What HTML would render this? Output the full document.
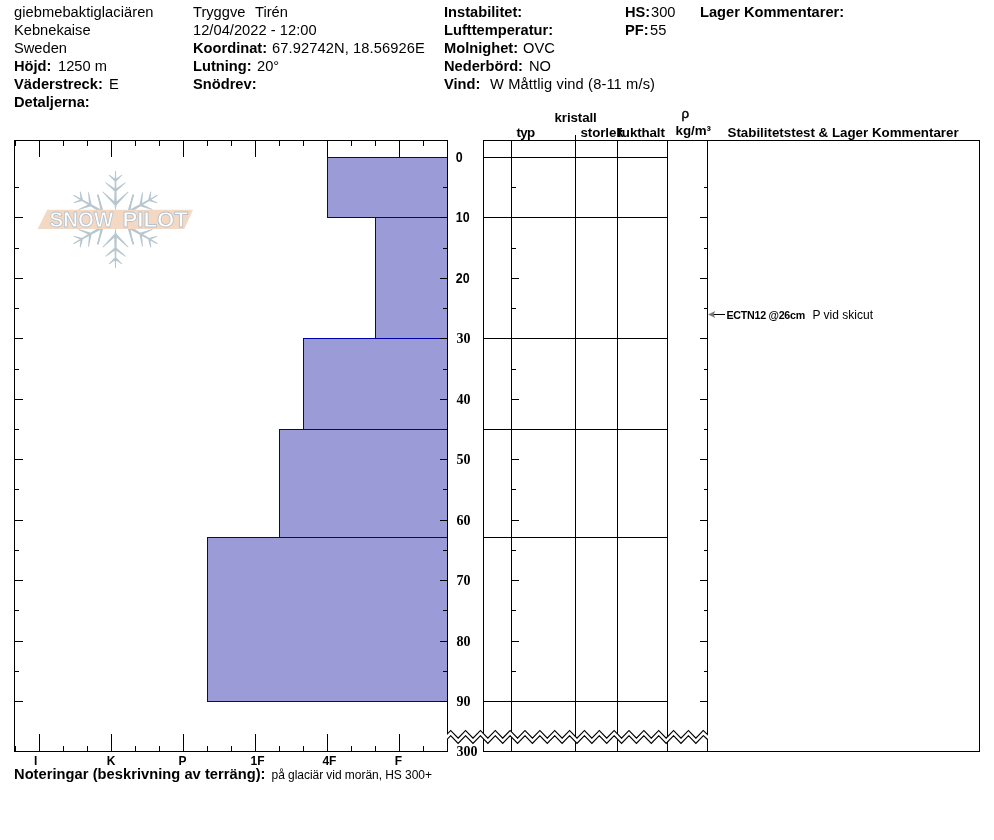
<!DOCTYPE html>
<html lang="sv"><head><meta charset="utf-8"><title>Snow Pilot</title>
<style>html,body{margin:0;padding:0;background:#fff}svg{display:block}text{font-family:"Liberation Sans",sans-serif;fill:#000;white-space:pre}.b{font-weight:bold}.h{font-size:14.67px}.t{font-size:13.33px;font-weight:bold}.d{font-family:"Liberation Serif",serif;font-size:14px;font-weight:bold}.x{font-size:13.33px;font-weight:bold}.n{font-size:12px}text.lg{font-size:21.6px;font-weight:bold;fill:#fff;stroke:#b8c1c9;stroke-width:0.85;stroke-linejoin:round}.k{stroke:#000;stroke-width:1;fill:none;shape-rendering:crispEdges}</style></head><body>
<svg width="994" height="840" viewBox="0 0 994 840">
<rect width="994" height="840" fill="#fff"/>
<text x="14" y="17" class="h" textLength="139.5">giebmebaktiglaciären</text>
<text x="14" y="35" class="h">Kebnekaise</text>
<text x="14" y="53" class="h">Sweden</text>
<text x="14" y="71" class="h b">Höjd:</text>
<text x="58" y="71" class="h">1250 m</text>
<text x="14" y="89" class="h b">Väderstreck:</text>
<text x="109" y="89" class="h">E</text>
<text x="14" y="107" class="h b">Detaljerna:</text>
<text x="193" y="17" class="h">Tryggve</text>
<text x="255" y="17" class="h">Tirén</text>
<text x="193" y="35" class="h" textLength="123.6">12/04/2022 - 12:00</text>
<text x="193" y="53" class="h b">Koordinat:</text>
<text x="272" y="53" class="h" textLength="152.7">67.92742N, 18.56926E</text>
<text x="193" y="71" class="h b">Lutning:</text>
<text x="257" y="71" class="h">20°</text>
<text x="193" y="89" class="h b">Snödrev:</text>
<text x="444" y="17" class="h b">Instabilitet:</text>
<text x="444" y="35" class="h b">Lufttemperatur:</text>
<text x="444" y="53" class="h b">Molnighet:</text>
<text x="523" y="53" class="h">OVC</text>
<text x="444" y="71" class="h b">Nederbörd:</text>
<text x="529" y="71" class="h">NO</text>
<text x="444" y="89" class="h b">Vind:</text>
<text x="490" y="89" class="h" textLength="165">W Måttlig vind (8-11 m/s)</text>
<text x="625" y="17" class="h b">HS:</text>
<text x="651" y="17" class="h">300</text>
<text x="625" y="35" class="h b">PF:</text>
<text x="650" y="35" class="h">55</text>
<text x="700" y="17" class="h b">Lager Kommentarer:</text>
<g id="logo">
<g transform="translate(115.5,219.5)" fill="#b7c6cf" stroke="none">
<path transform="rotate(0)" d="M-1.30,-17.00L-0.25,-9.00L0.25,-9.00L1.30,-17.00ZM1.30,-17.00L0.50,-48.50L-0.50,-48.50L-1.30,-17.00ZM0.74,-38.12L6.79,-44.16L6.21,-44.84L-0.74,-39.88ZM0.74,-39.88L-6.21,-44.84L-6.79,-44.16L-0.74,-38.12ZM0.78,-28.02L10.28,-36.65L9.72,-37.35L-0.78,-29.98ZM0.78,-29.98L-9.72,-37.35L-10.28,-36.65L-0.78,-28.02ZM0.94,-14.33L13.11,-27.48L12.49,-28.12L-0.94,-16.27ZM0.94,-16.27L-12.49,-28.12L-13.11,-27.48L-0.94,-14.33Z"/>
<path transform="rotate(60)" d="M-1.30,-17.00L-0.25,-9.00L0.25,-9.00L1.30,-17.00ZM1.30,-17.00L0.50,-48.50L-0.50,-48.50L-1.30,-17.00ZM0.74,-38.12L6.79,-44.16L6.21,-44.84L-0.74,-39.88ZM0.74,-39.88L-6.21,-44.84L-6.79,-44.16L-0.74,-38.12ZM0.78,-28.02L10.28,-36.65L9.72,-37.35L-0.78,-29.98ZM0.78,-29.98L-9.72,-37.35L-10.28,-36.65L-0.78,-28.02ZM0.94,-14.33L13.11,-27.48L12.49,-28.12L-0.94,-16.27ZM0.94,-16.27L-12.49,-28.12L-13.11,-27.48L-0.94,-14.33Z"/>
<path transform="rotate(120)" d="M-1.30,-17.00L-0.25,-9.00L0.25,-9.00L1.30,-17.00ZM1.30,-17.00L0.50,-48.50L-0.50,-48.50L-1.30,-17.00ZM0.74,-38.12L6.79,-44.16L6.21,-44.84L-0.74,-39.88ZM0.74,-39.88L-6.21,-44.84L-6.79,-44.16L-0.74,-38.12ZM0.78,-28.02L10.28,-36.65L9.72,-37.35L-0.78,-29.98ZM0.78,-29.98L-9.72,-37.35L-10.28,-36.65L-0.78,-28.02ZM0.94,-14.33L13.11,-27.48L12.49,-28.12L-0.94,-16.27ZM0.94,-16.27L-12.49,-28.12L-13.11,-27.48L-0.94,-14.33Z"/>
<path transform="rotate(180)" d="M-1.30,-17.00L-0.25,-9.00L0.25,-9.00L1.30,-17.00ZM1.30,-17.00L0.50,-48.50L-0.50,-48.50L-1.30,-17.00ZM0.74,-38.12L6.79,-44.16L6.21,-44.84L-0.74,-39.88ZM0.74,-39.88L-6.21,-44.84L-6.79,-44.16L-0.74,-38.12ZM0.78,-28.02L10.28,-36.65L9.72,-37.35L-0.78,-29.98ZM0.78,-29.98L-9.72,-37.35L-10.28,-36.65L-0.78,-28.02ZM0.94,-14.33L13.11,-27.48L12.49,-28.12L-0.94,-16.27ZM0.94,-16.27L-12.49,-28.12L-13.11,-27.48L-0.94,-14.33Z"/>
<path transform="rotate(240)" d="M-1.30,-17.00L-0.25,-9.00L0.25,-9.00L1.30,-17.00ZM1.30,-17.00L0.50,-48.50L-0.50,-48.50L-1.30,-17.00ZM0.74,-38.12L6.79,-44.16L6.21,-44.84L-0.74,-39.88ZM0.74,-39.88L-6.21,-44.84L-6.79,-44.16L-0.74,-38.12ZM0.78,-28.02L10.28,-36.65L9.72,-37.35L-0.78,-29.98ZM0.78,-29.98L-9.72,-37.35L-10.28,-36.65L-0.78,-28.02ZM0.94,-14.33L13.11,-27.48L12.49,-28.12L-0.94,-16.27ZM0.94,-16.27L-12.49,-28.12L-13.11,-27.48L-0.94,-14.33Z"/>
<path transform="rotate(300)" d="M-1.30,-17.00L-0.25,-9.00L0.25,-9.00L1.30,-17.00ZM1.30,-17.00L0.50,-48.50L-0.50,-48.50L-1.30,-17.00ZM0.74,-38.12L6.79,-44.16L6.21,-44.84L-0.74,-39.88ZM0.74,-39.88L-6.21,-44.84L-6.79,-44.16L-0.74,-38.12ZM0.78,-28.02L10.28,-36.65L9.72,-37.35L-0.78,-29.98ZM0.78,-29.98L-9.72,-37.35L-10.28,-36.65L-0.78,-28.02ZM0.94,-14.33L13.11,-27.48L12.49,-28.12L-0.94,-16.27ZM0.94,-16.27L-12.49,-28.12L-13.11,-27.48L-0.94,-14.33Z"/>
<path d="M-13.62,-11.84L-16.89,-25.06L-18.71,-24.54L-14.58,-11.56ZM-14.58,11.56L-18.71,24.54L-16.89,25.06L-13.62,11.84ZM14.58,-11.56L18.71,-24.54L16.89,-25.06L13.62,-11.84ZM13.62,11.84L16.89,25.06L18.71,24.54L14.58,11.56Z"/>
</g>
<polygon points="47.3,209.7 193,209.7 184.3,229 37.6,229" fill="#f3d9c4"/>
<text x="49.6" y="227.3" textLength="63.6" lengthAdjust="spacingAndGlyphs" class="lg">SNOW</text>
<text x="122.4" y="227.3" textLength="65.6" lengthAdjust="spacingAndGlyphs" class="lg">PILOT</text>
</g>
<rect x="327.5" y="157.5" width="120" height="60" fill="#9b9bd7" stroke="#0000a8" stroke-width="1" shape-rendering="crispEdges"/>
<rect x="375.5" y="217.5" width="72" height="121" fill="#9b9bd7" stroke="#0000a8" stroke-width="1" shape-rendering="crispEdges"/>
<rect x="303.5" y="338.5" width="144" height="91" fill="#9b9bd7" stroke="#0000a8" stroke-width="1" shape-rendering="crispEdges"/>
<rect x="279.5" y="429.5" width="168" height="108" fill="#9b9bd7" stroke="#0000a8" stroke-width="1" shape-rendering="crispEdges"/>
<rect x="207.5" y="537.5" width="240" height="164" fill="#9b9bd7" stroke="#0000a8" stroke-width="1" shape-rendering="crispEdges"/>
<g fill="#000" shape-rendering="crispEdges">
<rect x="14" y="140" width="434" height="1"/>
<rect x="14" y="751" width="434" height="1"/>
<rect x="14" y="140" width="1" height="612"/>
<rect x="447" y="140" width="1" height="612"/>
<rect x="15" y="141" width="1" height="5"/>
<rect x="15" y="746" width="1" height="5"/>
<rect x="39" y="141" width="1" height="16"/>
<rect x="39" y="734" width="1" height="17"/>
<rect x="63" y="141" width="1" height="5"/>
<rect x="63" y="746" width="1" height="5"/>
<rect x="87" y="141" width="1" height="5"/>
<rect x="87" y="746" width="1" height="5"/>
<rect x="111" y="141" width="1" height="16"/>
<rect x="111" y="734" width="1" height="17"/>
<rect x="135" y="141" width="1" height="5"/>
<rect x="135" y="746" width="1" height="5"/>
<rect x="159" y="141" width="1" height="5"/>
<rect x="159" y="746" width="1" height="5"/>
<rect x="183" y="141" width="1" height="16"/>
<rect x="183" y="734" width="1" height="17"/>
<rect x="207" y="141" width="1" height="5"/>
<rect x="207" y="746" width="1" height="5"/>
<rect x="231" y="141" width="1" height="5"/>
<rect x="231" y="746" width="1" height="5"/>
<rect x="255" y="141" width="1" height="16"/>
<rect x="255" y="734" width="1" height="17"/>
<rect x="279" y="141" width="1" height="5"/>
<rect x="279" y="746" width="1" height="5"/>
<rect x="303" y="141" width="1" height="5"/>
<rect x="303" y="746" width="1" height="5"/>
<rect x="327" y="141" width="1" height="16"/>
<rect x="327" y="734" width="1" height="17"/>
<rect x="351" y="141" width="1" height="5"/>
<rect x="351" y="746" width="1" height="5"/>
<rect x="375" y="141" width="1" height="5"/>
<rect x="375" y="746" width="1" height="5"/>
<rect x="399" y="141" width="1" height="16"/>
<rect x="399" y="734" width="1" height="17"/>
<rect x="423" y="141" width="1" height="5"/>
<rect x="423" y="746" width="1" height="5"/>
<rect x="15" y="187" width="4" height="1"/>
<rect x="443" y="187" width="4" height="1"/>
<rect x="512" y="187" width="4" height="1"/>
<rect x="704" y="187" width="3" height="1"/>
<rect x="15" y="217" width="8" height="1"/>
<rect x="440" y="217" width="7" height="1"/>
<rect x="512" y="217" width="7" height="1"/>
<rect x="700" y="217" width="7" height="1"/>
<rect x="15" y="248" width="4" height="1"/>
<rect x="443" y="248" width="4" height="1"/>
<rect x="512" y="248" width="4" height="1"/>
<rect x="704" y="248" width="3" height="1"/>
<rect x="15" y="278" width="8" height="1"/>
<rect x="440" y="278" width="7" height="1"/>
<rect x="512" y="278" width="7" height="1"/>
<rect x="700" y="278" width="7" height="1"/>
<rect x="15" y="308" width="4" height="1"/>
<rect x="443" y="308" width="4" height="1"/>
<rect x="512" y="308" width="4" height="1"/>
<rect x="704" y="308" width="3" height="1"/>
<rect x="15" y="338" width="8" height="1"/>
<rect x="440" y="338" width="7" height="1"/>
<rect x="512" y="338" width="7" height="1"/>
<rect x="700" y="338" width="7" height="1"/>
<rect x="15" y="369" width="4" height="1"/>
<rect x="443" y="369" width="4" height="1"/>
<rect x="512" y="369" width="4" height="1"/>
<rect x="704" y="369" width="3" height="1"/>
<rect x="15" y="399" width="8" height="1"/>
<rect x="440" y="399" width="7" height="1"/>
<rect x="512" y="399" width="7" height="1"/>
<rect x="700" y="399" width="7" height="1"/>
<rect x="15" y="429" width="4" height="1"/>
<rect x="443" y="429" width="4" height="1"/>
<rect x="512" y="429" width="4" height="1"/>
<rect x="704" y="429" width="3" height="1"/>
<rect x="15" y="459" width="8" height="1"/>
<rect x="440" y="459" width="7" height="1"/>
<rect x="512" y="459" width="7" height="1"/>
<rect x="700" y="459" width="7" height="1"/>
<rect x="15" y="489" width="4" height="1"/>
<rect x="443" y="489" width="4" height="1"/>
<rect x="512" y="489" width="4" height="1"/>
<rect x="704" y="489" width="3" height="1"/>
<rect x="15" y="520" width="8" height="1"/>
<rect x="440" y="520" width="7" height="1"/>
<rect x="512" y="520" width="7" height="1"/>
<rect x="700" y="520" width="7" height="1"/>
<rect x="15" y="550" width="4" height="1"/>
<rect x="443" y="550" width="4" height="1"/>
<rect x="512" y="550" width="4" height="1"/>
<rect x="704" y="550" width="3" height="1"/>
<rect x="15" y="580" width="8" height="1"/>
<rect x="440" y="580" width="7" height="1"/>
<rect x="512" y="580" width="7" height="1"/>
<rect x="700" y="580" width="7" height="1"/>
<rect x="15" y="610" width="4" height="1"/>
<rect x="443" y="610" width="4" height="1"/>
<rect x="512" y="610" width="4" height="1"/>
<rect x="704" y="610" width="3" height="1"/>
<rect x="15" y="641" width="8" height="1"/>
<rect x="440" y="641" width="7" height="1"/>
<rect x="512" y="641" width="7" height="1"/>
<rect x="700" y="641" width="7" height="1"/>
<rect x="15" y="671" width="4" height="1"/>
<rect x="443" y="671" width="4" height="1"/>
<rect x="512" y="671" width="4" height="1"/>
<rect x="704" y="671" width="3" height="1"/>
<rect x="15" y="701" width="8" height="1"/>
<rect x="440" y="701" width="7" height="1"/>
<rect x="512" y="701" width="7" height="1"/>
<rect x="700" y="701" width="7" height="1"/>
<rect x="483" y="140" width="1" height="612"/>
<rect x="511" y="140" width="1" height="612"/>
<rect x="575" y="140" width="1" height="612"/>
<rect x="617" y="140" width="1" height="612"/>
<rect x="667" y="140" width="1" height="612"/>
<rect x="707" y="140" width="1" height="612"/>
<rect x="979" y="140" width="1" height="612"/>
<rect x="575" y="135" width="1" height="6"/>
<rect x="483" y="140" width="497" height="1"/>
<rect x="483" y="751" width="497" height="1"/>
<rect x="483" y="157" width="185" height="1"/>
<rect x="483" y="217" width="185" height="1"/>
<rect x="483" y="338" width="185" height="1"/>
<rect x="483" y="429" width="185" height="1"/>
<rect x="483" y="537" width="185" height="1"/>
<rect x="483" y="701" width="185" height="1"/>
</g>
<clipPath id="zc"><rect x="447" y="720" width="261" height="30"/></clipPath><g clip-path="url(#zc)">
<path d="M446.00,737.94 L450.71,733.05 L458.14,740.75 L465.57,733.05 L473.00,740.75 L480.43,733.05 L487.86,740.75 L495.29,733.05 L502.71,740.75 L510.14,733.05 L517.57,740.75 L525.00,733.05 L532.43,740.75 L539.86,733.05 L547.29,740.75 L554.71,733.05 L562.14,740.75 L569.57,733.05 L577.00,740.75 L584.43,733.05 L591.86,740.75 L599.29,733.05 L606.71,740.75 L614.14,733.05 L621.57,740.75 L629.00,733.05 L636.43,740.75 L643.86,733.05 L651.29,740.75 L658.71,733.05 L666.14,740.75 L673.57,733.05 L681.00,740.75 L688.43,733.05 L695.86,740.75 L703.29,733.05 L708.50,737.94" fill="none" stroke="#000" stroke-width="4.7" stroke-linejoin="miter" stroke-linecap="butt"/>
<path d="M446.00,737.94 L450.71,733.05 L458.14,740.75 L465.57,733.05 L473.00,740.75 L480.43,733.05 L487.86,740.75 L495.29,733.05 L502.71,740.75 L510.14,733.05 L517.57,740.75 L525.00,733.05 L532.43,740.75 L539.86,733.05 L547.29,740.75 L554.71,733.05 L562.14,740.75 L569.57,733.05 L577.00,740.75 L584.43,733.05 L591.86,740.75 L599.29,733.05 L606.71,740.75 L614.14,733.05 L621.57,740.75 L629.00,733.05 L636.43,740.75 L643.86,733.05 L651.29,740.75 L658.71,733.05 L666.14,740.75 L673.57,733.05 L681.00,740.75 L688.43,733.05 L695.86,740.75 L703.29,733.05 L708.50,737.94" fill="none" stroke="#fff" stroke-width="2.5" stroke-linejoin="miter" stroke-linecap="butt"/>
</g>
<text transform="translate(455.8,161.9) scale(0.9,1)" class="x" style="font-size:13.8px">0</text>
<text transform="translate(455.8,221.9) scale(0.9,1)" class="x" style="font-size:13.8px">10</text>
<text transform="translate(455.8,282.9) scale(0.9,1)" class="x" style="font-size:13.8px">20</text>
<text x="456.4" y="343" class="d">30</text>
<text x="456.4" y="404" class="d">40</text>
<text x="456.4" y="464" class="d">50</text>
<text x="456.4" y="525" class="d">60</text>
<text x="456.4" y="585" class="d">70</text>
<text x="456.4" y="646" class="d">80</text>
<text x="456.4" y="706" class="d">90</text>
<text x="456.4" y="756" class="d">300</text>
<text transform="translate(35.6,764.5) scale(0.9,1)" class="x" text-anchor="middle">I</text>
<text transform="translate(111,764.5) scale(0.9,1)" class="x" text-anchor="middle">K</text>
<text transform="translate(182.5,764.5) scale(0.9,1)" class="x" text-anchor="middle">P</text>
<text transform="translate(257.5,764.5) scale(0.9,1)" class="x" text-anchor="middle">1F</text>
<text transform="translate(329.4,764.5) scale(0.9,1)" class="x" text-anchor="middle">4F</text>
<text transform="translate(398.4,764.5) scale(0.9,1)" class="x" text-anchor="middle">F</text>
<text x="554.5" y="121.5" class="t" textLength="42.3">kristall</text>
<text x="516.5" y="137.3" class="t" textLength="18.6">typ</text>
<text x="580.5" y="137.3" class="t" textLength="43.2">storlek</text>
<text x="617.5" y="137.3" class="t" textLength="47.4">fukthalt</text>
<text x="681.5" y="118" class="t" style="font-weight:normal;stroke:#000;stroke-width:0.45">ρ</text>
<text x="675.5" y="135" class="t">kg/m³</text>
<text x="727.5" y="137" class="t">Stabilitetstest &amp; Lager Kommentarer</text>
<text x="14" y="779" class="h b" textLength="251.5">Noteringar (beskrivning av terräng):</text>
<text x="271.5" y="779" class="n" textLength="160.5">på glaciär vid morän, HS 300+</text>
<path d="M713,314.5H725" stroke="#000" stroke-width="1" fill="none" shape-rendering="crispEdges"/>
<path d="M708,314.5L715.3,311L713.6,314.5L715.3,318Z" fill="#7a7a7a"/>
<text x="726.5" y="319" class="b" style="font-size:10.67px" textLength="78.7">ECTN12 @26cm</text>
<text x="812.5" y="319" class="n">P vid skicut</text>
</svg></body></html>
